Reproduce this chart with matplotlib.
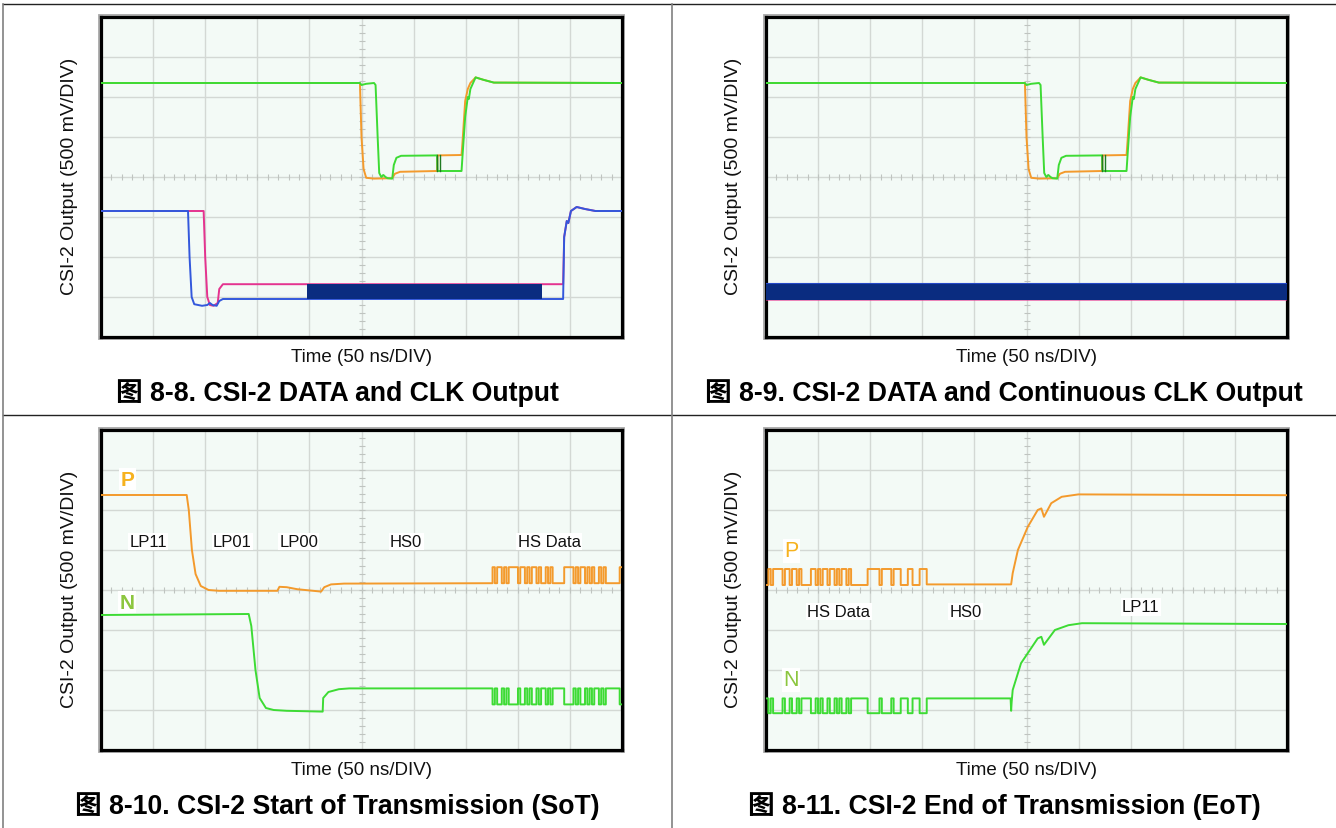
import numpy as np
import matplotlib
matplotlib.use('Agg')
import matplotlib.pyplot as plt
from matplotlib.lines import Line2D
from matplotlib.patches import Rectangle

# ---------------- data (x: divisions of 50 ns, y: divisions of 500 mV) ----------------
# Figures 8-8 / 8-9 : data lane (P orange, N green)
lane_p_x = [0, 4.97, 5.00, 5.04, 5.09, 5.24, 5.59, 5.64, 5.74, 6.45, 6.46, 6.92, 6.94, 6.99, 7.04, 7.09, 7.19, 7.34, 7.54, 10]
lane_p_y = [6.35, 6.35, 5.0, 4.2, 3.98, 3.96, 3.97, 4.08, 4.13, 4.15, 4.54, 4.55, 4.9, 5.9, 6.2, 6.35, 6.49, 6.43, 6.36, 6.35]
lane_n_x = [0, 4.97, 5.00, 5.09, 5.24, 5.27, 5.31, 5.34, 5.38, 5.42, 5.46, 5.50, 5.59, 5.62, 5.67, 5.76, 6.45, 6.46, 6.92, 6.94, 6.99, 7.04, 7.06, 7.09, 7.19, 7.34, 7.54, 10]
lane_n_y = [6.35, 6.35, 6.30, 6.33, 6.35, 6.30, 5.0, 4.1, 4.0, 4.05, 4.0, 3.97, 3.96, 4.3, 4.48, 4.53, 4.54, 4.15, 4.15, 4.55, 5.5, 6.0, 5.95, 6.2, 6.49, 6.43, 6.36, 6.35]
glitch_x = [6.45, 6.51]
glitch_lo, glitch_hi = 4.15, 4.54

# Figure 8-8 : clock lane (P pink, N blue)
clk_p_x = [0, 1.97, 2.00, 2.04, 2.09, 2.16, 2.24, 2.27, 2.34, 8.87, 8.89, 8.94, 8.97, 9.02, 9.13, 9.29, 9.49, 10]
clk_p_y = [3.15, 3.15, 2.0, 1.0, 0.8, 0.78, 0.85, 1.2, 1.32, 1.32, 2.5, 2.9, 2.85, 3.15, 3.25, 3.2, 3.15, 3.15]
clk_n_x = [0, 1.67, 1.70, 1.74, 1.79, 1.94, 2.04, 2.09, 2.14, 2.22, 2.27, 2.34, 8.87, 8.89, 8.94, 8.97, 9.02, 9.13, 9.29, 9.49, 10]
clk_n_y = [3.15, 3.15, 2.0, 1.0, 0.82, 0.78, 0.80, 0.85, 0.80, 0.78, 0.90, 0.95, 0.95, 2.5, 2.9, 2.85, 3.15, 3.25, 3.2, 3.15, 3.15]
burst1_x = [3.96, 8.47]
burst1_y = [0.94, 1.32]
# Figure 8-9 : continuous clock
burst2_x = [0, 10]
burst2_y = [0.92, 1.36]

# Figure 8-10 : SoT
sot_p_x = [0, 1.645, 1.685, 1.745, 1.815, 1.915, 2.065, 2.265, 3.385, 3.425, 3.565, 3.765, 4.065, 4.225, 4.285, 4.415, 4.665, 7.515]
sot_p_y = [6.375, 6.375, 6.0, 5.0, 4.4, 4.1, 4.0, 3.98, 3.98, 4.08, 4.07, 4.02, 3.98, 3.96, 4.07, 4.14, 4.16, 4.17]
sot_n_x = [0, 2.835, 2.885, 2.965, 3.045, 3.165, 3.315, 3.565, 4.255, 4.265, 4.365, 4.565, 4.765, 7.515]
sot_n_y = [3.375, 3.40, 3.1, 2.0, 1.3, 1.05, 1.0, 0.98, 0.96, 1.30, 1.45, 1.52, 1.54, 1.54]
sot_hs_span = [7.515, 10]
sot_bits = "10110101111011010110100101" + "00000" + "1111010110101001010" + "00000" + "1"
sot_p_levels = [4.17, 4.57]
sot_n_levels = [1.54, 1.14]

# Figure 8-11 : EoT
eot_hs_span = [0, 3.085]
eot_bits = "01011" + "11011011" + "010000" + "11010110110101101" + "0000000" + "11111011110111" + "00" + "0110" + "00" + "111"
eot_p_levels = [4.125, 4.525]
eot_n_levels = [1.29, 0.92]
eot_p_x = [3.085, 4.705, 4.735, 4.835, 5.025, 5.215, 5.285, 5.335, 5.475, 5.675, 5.995, 10]
eot_p_y = [4.14, 4.14, 4.42, 5.0, 5.58, 6.0, 6.04, 5.83, 6.17, 6.33, 6.39, 6.37]
eot_n_x = [3.085, 4.695, 4.705, 4.715, 4.735, 4.895, 5.215, 5.285, 5.335, 5.545, 5.805, 6.065, 10]
eot_n_y = [1.29, 1.29, 0.98, 1.2, 1.5, 2.17, 2.79, 2.83, 2.63, 3.0, 3.12, 3.17, 3.15]

sot_labels = [("LP11", 0.905, 5.21), ("LP01", 2.525, 5.21), ("LP00", 3.795, 5.21), ("HS0", 5.855, 5.21), ("HS Data", 8.605, 5.21)]
sot_pn = [("P", 0.505, 6.775), ("N", 0.505, 3.69)]
eot_labels = [("HS Data", 1.395, 3.46), ("HS0", 3.825, 3.46), ("LP11", 7.195, 3.58)]
eot_pn = [("P", 0.485, 4.98), ("N", 0.485, 1.75)]

captions = ["图 8-8. CSI-2 DATA and CLK Output",
            "图 8-9. CSI-2 DATA and Continuous CLK Output",
            "图 8-10. CSI-2 Start of Transmission (SoT)",
            "图 8-11. CSI-2 End of Transmission (EoT)"]
xlabel_text = "Time (50 ns/DIV)"
ylabel_text = "CSI-2 Output (500 mV/DIV)"

# ---------------- styling ----------------
W, H, DPI = 1336, 829, 100
C_GREEN = '#3ddb34'
C_ORANGE = '#f39a2c'
C_BLUE = '#3358dc'
C_PINK = '#e4338f'
C_NAVY = '#0a2c80'
C_DKGREEN = '#1f7a22'
C_PLBL = '#f6b21e'
C_NLBL = '#8cc63f'
FONT = ['Liberation Sans', 'Noto Sans CJK SC', 'DejaVu Sans']
plt.rcParams['font.family'] = FONT

fig = plt.figure(figsize=(W / DPI, H / DPI), dpi=DPI)
fig.patch.set_facecolor('white')


def hs_points(span, bits, levels):
    e = np.linspace(span[0], span[1], len(bits) + 1)
    y = np.array([levels[1] if b == '1' else levels[0] for b in bits])
    xs = np.column_stack([e[:-1], e[1:]]).ravel()
    ys = np.repeat(y, 2)
    return xs, ys


def add_panel(left, top, right, bottom):
    fig.add_artist(Rectangle(((left - 2) / W, 1 - (bottom + 2) / H), (right - left + 4) / W, (bottom - top + 4) / H,
                             transform=fig.transFigure, fill=False, ec='#a8a8a8', lw=1.3, zorder=0))
    ax = fig.add_axes([left / W, 1 - bottom / H, (right - left) / W, (bottom - top) / H])
    ax.set_xlim(0, 10)
    ax.set_ylim(0, 8)
    ax.set_facecolor('#f3faf6')
    ax.set_xticks(np.arange(1, 10))
    ax.set_yticks(np.arange(1, 8))
    ax.set_axisbelow(True)
    ax.grid(True, color='#d3d8d4', lw=1.0)
    ax.tick_params(length=0, labelbottom=False, labelleft=False)
    for s in ax.spines.values():
        s.set_linewidth(2.3)
        s.set_color('black')
    mx = np.arange(0.2, 10, 0.2)
    my = np.arange(0.2, 8, 0.2)
    ax.plot(mx, np.full_like(mx, 4), ls='none', marker='|', ms=4, mew=0.8, color='#bfc4c0', zorder=1)
    ax.plot(np.full_like(my, 5), my, ls='none', marker='_', ms=4, mew=0.8, color='#bfc4c0', zorder=1)
    cx = (left + right) / 2
    cy = (top + bottom) / 2
    fig.text(cx / W, 1 - (bottom + 19.5) / H, xlabel_text, ha='center', va='center', fontsize=13.5, color='#111111')
    fig.text((left - 32) / W, 1 - (cy - 2) / H, ylabel_text, ha='center', va='center', rotation=90, fontsize=14, color='#111111')
    return ax


LW = 1.4
panels = [(101, 18, 622, 338), (766, 18, 1287, 338), (101, 431, 622, 751), (766, 431, 1287, 751)]
axs = [add_panel(*p) for p in panels]

# Panels 1 & 2: data lane
for ax in axs[:2]:
    ax.plot(lane_p_x, lane_p_y, color=C_ORANGE, lw=LW, zorder=3)
    ax.plot(lane_n_x, lane_n_y, color=C_GREEN, lw=LW, zorder=4)
    for gx in glitch_x:
        ax.plot([gx, gx], [glitch_lo, glitch_hi], color=C_DKGREEN, lw=1.0, zorder=5)

# Panel 1 clock lane
ax = axs[0]
ax.plot(clk_p_x, clk_p_y, color=C_PINK, lw=LW, zorder=3)
ax.plot(clk_n_x, clk_n_y, color=C_BLUE, lw=LW, zorder=4)
ax.fill_between(burst1_x, burst1_y[0], burst1_y[1], color=C_NAVY, lw=0, zorder=5)

# Panel 2 continuous clock
ax = axs[1]
ax.fill_between(burst2_x, burst2_y[0], burst2_y[1], color=C_NAVY, lw=0, zorder=5)
ax.plot(burst2_x, [burst2_y[0], burst2_y[0]], color=C_PINK, lw=0.6, alpha=0.7, zorder=6)
ax.plot(burst2_x, [burst2_y[1], burst2_y[1]], color='#2448c8', lw=0.8, zorder=6)

# Panel 3 SoT
ax = axs[2]
hx, hy = hs_points(sot_hs_span, sot_bits, sot_p_levels)
ax.plot(np.concatenate([sot_p_x, hx]), np.concatenate([sot_p_y, hy]), color=C_ORANGE, lw=LW, zorder=3)
hx, hy = hs_points(sot_hs_span, sot_bits, sot_n_levels)
ax.plot(np.concatenate([sot_n_x, hx]), np.concatenate([sot_n_y, hy]), color=C_GREEN, lw=LW, zorder=3)
for (t, x, y), c in zip(sot_pn, [C_PLBL, C_NLBL]):
    ax.text(x, y, t, color=c, fontsize=15, fontweight='bold', ha='center', va='center',
            bbox=dict(fc='white', ec='none', pad=1))
for t, x, y in sot_labels:
    ax.text(x, y, t, fontsize=12, ha='center', va='center', color='#111111',
            bbox=dict(fc='white', ec='none', pad=1))

# Panel 4 EoT
ax = axs[3]
hx, hy = hs_points(eot_hs_span, eot_bits, eot_p_levels)
ax.plot(np.concatenate([hx, eot_p_x]), np.concatenate([hy, eot_p_y]), color=C_ORANGE, lw=LW, zorder=3)
hx, hy = hs_points(eot_hs_span, eot_bits, eot_n_levels)
ax.plot(np.concatenate([hx, eot_n_x]), np.concatenate([hy, eot_n_y]), color=C_GREEN, lw=LW, zorder=3)
for (t, x, y), c in zip(eot_pn, [C_PLBL, C_NLBL]):
    ax.text(x, y, t, color=c, fontsize=15.5, ha='center', va='center',
            bbox=dict(fc='white', ec='none', pad=1))
for t, x, y in eot_labels:
    ax.text(x, y, t, fontsize=12, ha='center', va='center', color='#111111',
            bbox=dict(fc='white', ec='none', pad=1))

# Captions
cap_pos = [(337.5, 393.5), (1004, 393.5), (337.5, 806.5), (1004, 806.5)]
for c, (x, y) in zip(captions, cap_pos):
    fig.text(x / W, 1 - y / H, c, ha='center', va='center', fontsize=19.2, fontweight='bold', color='black')

# Table lines
def fline(x0, y0, x1, y1, color, lw):
    fig.add_artist(Line2D([x0 / W, x1 / W], [1 - y0 / H, 1 - y1 / H], transform=fig.transFigure, color=color, lw=lw))

fline(3, 5, 1336, 5, '#222222', 1.0)
fline(3, 416, 1336, 416, '#222222', 1.0)
fline(3, 5, 3, 829, '#808080', 1.2)
fline(672, 5, 672, 829, '#808080', 1.2)

fig.savefig('out.png', dpi=DPI, facecolor='white')
